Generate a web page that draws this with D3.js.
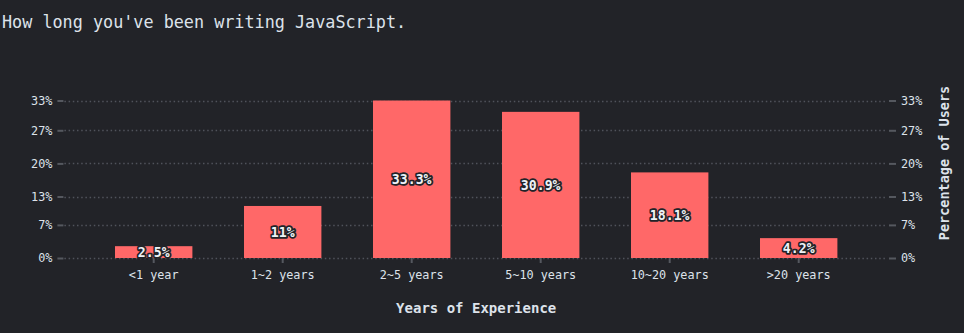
<!DOCTYPE html>
<html><head><meta charset="utf-8">
<script src="https://cdn.jsdelivr.net/npm/d3@7"></script>
<style>
html,body{margin:0;padding:0;background:#222328;}
svg{display:block;}
text{font-family:"DejaVu Sans Mono","Liberation Mono",monospace;}
</style></head>
<body><svg id="c" width="964" height="333"></svg>
<script>
const categories = ["<1 year","1~2 years","2~5 years","5~10 years","10~20 years",">20 years"];
const values = [2.5, 11, 33.3, 30.9, 18.1, 4.2];
const labels = ["2.5%","11%","33.3%","30.9%","18.1%","4.2%"];
const yTickValues = [0, 7, 13, 20, 27, 33.3];
const yTickLabels = ["0%","7%","13%","20%","27%","33%"];
const titleText = "How long you've been writing JavaScript.";
const xTitle = "Years of Experience";
const yTitle = "Percentage of Users";

(function () {
const svg = d3.select("#c");
const textColor = "#dde2ea";
const mLeft = 63.4, mRight = 889, mTop = 100.5, mBottom = 258;

const x = d3.scaleBand().domain(categories).range([mLeft, mRight]).paddingInner(0.4).paddingOuter(0.4);
const y = d3.scaleLinear().domain([0, 33.3]).range([mBottom, mTop]);

svg.append("text").attr("x", 2).attr("y", 28).attr("fill", textColor)
  .attr("font-size", 16.8).text(titleText);

// gridlines
svg.append("g").selectAll("line").data(yTickValues).join("line")
  .attr("x1", mLeft + 1).attr("x2", mRight - 3)
  .attr("y1", d => Math.round(y(d)) + 0.5).attr("y2", d => Math.round(y(d)) + 0.5)
  .attr("stroke", "#50535b").attr("stroke-width", 1.5).attr("stroke-dasharray", "1.5,2.7");

function styleAxis(g) {
  g.select(".domain").remove();
  g.selectAll(".tick line").attr("stroke", "#55585f").attr("stroke-width", 2);
  g.selectAll(".tick text").attr("fill", textColor).attr("font-size", 11.8)
    .attr("font-family", "DejaVu Sans Mono, monospace");
}

const fmt = (d) => yTickLabels[yTickValues.indexOf(d)];
svg.append("g").attr("transform", `translate(${mLeft},0)`)
  .call(d3.axisLeft(y).tickValues(yTickValues).tickFormat(fmt).tickSize(6).tickPadding(5))
  .call(styleAxis);
svg.append("g").attr("transform", `translate(${mRight},0)`)
  .call(d3.axisRight(y).tickValues(yTickValues).tickFormat(fmt).tickSize(7).tickPadding(5))
  .call(styleAxis);

// x axis
svg.append("g").attr("transform", `translate(0,${mBottom})`)
  .call(d3.axisBottom(x).tickSize(5).tickPadding(8))
  .call(styleAxis);

// bars
svg.append("g").selectAll("rect").data(values).join("rect")
  .attr("x", (d, i) => x(categories[i])).attr("width", x.bandwidth())
  .attr("y", d => y(d)).attr("height", d => y(0) - y(d))
  .attr("fill", "#ff6868");

// bar labels
svg.append("g").selectAll("text").data(values).join("text")
  .attr("x", (d, i) => x(categories[i]) + x.bandwidth() / 2)
  .attr("y", d => (y(d) + y(0)) / 2)
  .attr("dy", "0.35em").attr("text-anchor", "middle")
  .attr("font-size", 13.2).attr("font-weight", "bold")
  .attr("fill", "#eef2f7").attr("stroke", "#222328").attr("stroke-width", 3.5)
  .attr("stroke-linejoin", "round").attr("paint-order", "stroke")
  .text((d, i) => labels[i]);

svg.append("text").attr("x", (mLeft + mRight) / 2).attr("y", 313)
  .attr("text-anchor", "middle").attr("fill", textColor)
  .attr("font-size", 14).attr("font-weight", "bold").text(xTitle);

svg.append("text").attr("transform", "translate(949,163) rotate(-90)")
  .attr("text-anchor", "middle").attr("fill", textColor)
  .attr("font-size", 13.5).attr("font-weight", "bold").text(yTitle);
})();
</script></body></html>
